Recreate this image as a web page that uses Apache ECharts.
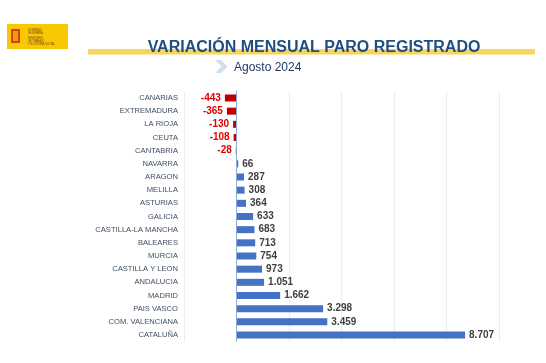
<!DOCTYPE html>
<html><head><meta charset="utf-8">
<script src="https://cdn.jsdelivr.net/npm/echarts@6/dist/echarts.min.js"></script>
<style>html,body{margin:0;padding:0;background:#fff}#c{width:546px;height:363px}</style>
</head><body><div id="c"></div>
<script>
var regions = ['CANARIAS','EXTREMADURA','LA RIOJA','CEUTA','CANTABRIA','NAVARRA','ARAGON','MELILLA','ASTURIAS','GALICIA','CASTILLA-LA MANCHA','BALEARES','MURCIA','CASTILLA Y LEON','ANDALUCIA','MADRID','PAIS VASCO','COM. VALENCIANA','CATALUÑA'];
var values = [-443,-365,-130,-108,-28,66,287,308,364,633,683,713,754,973,1051,1662,3298,3459,8707];
var xTicks = [-2000,0,2000,4000,6000,8000,10000];
var titleText = 'VARIACIÓN MENSUAL PARO REGISTRADO';
var subtitleText = 'Agosto 2024';

function fmt(v){
  var s = String(Math.abs(v)).replace(/\B(?=(\d{3})+(?!\d))/g,'.');
  return (v<0?'-':'') + s;
}

var data = values.map(function(v){
  var neg = v < 0;
  return {
    value: v,
    itemStyle: {color: neg ? '#C00000' : '#4472C4'},
    label: {position: neg ? 'left' : 'right', color: neg ? '#E00000' : '#404040'}
  };
});

var chart = echarts.init(document.getElementById('c'), null, {renderer:'canvas'});
chart.setOption({
  animation: false,
  backgroundColor: '#fff',
  grid: {left: 184, right: 47, top: 91.4, height: 250.2, containLabel: false},
  xAxis: {
    type: 'value', min: xTicks[0], max: xTicks[xTicks.length-1], interval: 2000,
    axisLabel: {show: false}, axisLine: {show: false}, axisTick: {show: false},
    splitLine: {show: true, lineStyle: {color: '#ECECEC', width: 1}}
  },
  yAxis: {
    type: 'category', data: regions, inverse: true,
    axisLine: {show: false}, axisTick: {show: false},
    axisLabel: {margin: 6, fontFamily: 'Liberation Sans', fontSize: 7.6, color: '#3F4D63'}
  },
  series: [{
    type: 'bar', data: data, barWidth: 7,
    label: {show: true, distance: 4, fontFamily: 'Liberation Sans', fontWeight: 'bold', fontSize: 10,
      formatter: function(p){ return fmt(p.value); }},
    markLine: {
      silent: true, symbol: ['none','none'], label: {show: false},
      lineStyle: {color: '#8EA9DB', type: 'solid', width: 1},
      data: [{xAxis: 0}]
    }
  }],
  graphic: [
    {type:'rect', shape:{x:7, y:24, width:61, height:25}, style:{fill:'#F8C800'}},
    {type:'rect', shape:{x:11, y:29, width:9, height:14}, style:{fill:'#C8102E', opacity:0.75}},
    {type:'rect', shape:{x:13, y:31, width:5, height:10}, style:{fill:'#E8A000'}},
    {type:'text', style:{x:28, y:29, text:'GOBIERNO\nDE ESPAÑA', font:'2.6px Liberation Sans', fill:'#7a3b1a', lineHeight:3}},
    {type:'text', style:{x:28, y:37, text:'MINISTERIO\nDE TRABAJO\nY ECONOMÍA SOCIAL', font:'2.6px Liberation Sans', fill:'#7a3b1a', lineHeight:3}},
    {type:'rect', shape:{x:88, y:49, width:447, height:5.5}, style:{fill:'#F9D35E'}},
    {type:'text', style:{x:314, y:48, text:titleText, font:'bold 16px Liberation Sans', fill:'#1F4F82', align:'center', verticalAlign:'middle'}},
    {type:'polygon', shape:{points:[[215,60],[221,60],[227.5,66.5],[221,73],[215,73],[221.5,66.5]]}, style:{fill:'#D3DDF0'}},
    {type:'text', style:{x:234, y:68, text:subtitleText, font:'12px Liberation Sans', fill:'#1F3864', verticalAlign:'middle'}}
  ]
});
</script></body></html>
